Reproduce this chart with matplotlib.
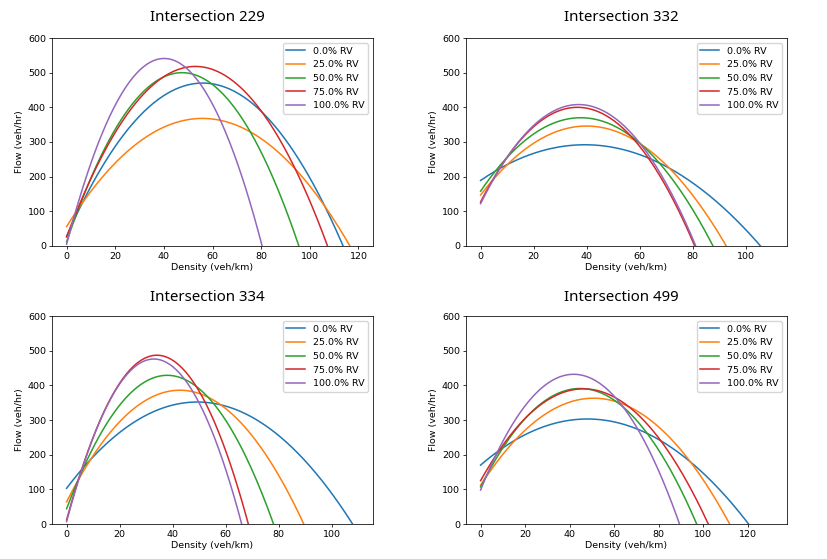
import numpy as np
import matplotlib.pyplot as plt

intersections = ['229', '332', '334', '499']
rv_share = [0.0, 25.0, 50.0, 75.0, 100.0]
k_max = [120, 110, 110, 131]

# per curve (0, 25, 50, 75, 100 % RV): flow at zero density, peak flow, jam density
q_zero = [[28, 56, 12, 26, 5],
          [189, 147, 158, 127, 122],
          [103, 64, 44, 12, 7],
          [170, 112, 107, 125, 98]]
q_peak = [[470, 368, 500, 518, 541],
          [292, 346, 370, 400, 408],
          [352, 386, 429, 487, 476],
          [303, 363, 391, 390, 432]]
k_jam = [[113.7, 116.5, 95.5, 107.3, 80.4],
         [105.5, 92.6, 87.6, 80.7, 81.1],
         [107.8, 89.4, 78.0, 68.5, 66.0],
         [120.3, 111.8, 97.0, 102.2, 89.3]]

fs = 6.8
plt.rcParams['font.size'] = fs
plt.rcParams['xtick.major.size'] = 2.4
plt.rcParams['ytick.major.size'] = 2.4
plt.rcParams['xtick.major.width'] = 0.55
plt.rcParams['ytick.major.width'] = 0.55
plt.rcParams['axes.linewidth'] = 0.55

fig = plt.figure(figsize=(8.28, 5.59), dpi=100)

lefts = [0.0628, 0.5628, 0.0628, 0.5628]
bottoms = [0.560, 0.560, 0.0626, 0.0626]
title_x = [0.25, 0.75, 0.25, 0.75]
title_y = [0.968, 0.968, 0.467, 0.467]

for i, name in enumerate(intersections):
    ax = fig.add_axes([lefts[i], bottoms[i], 0.3877, 0.372])
    k = np.linspace(0, k_max[i], 300)
    for j, rv in enumerate(rv_share):
        q0, qp, kj = q_zero[i][j], q_peak[i][j], k_jam[i][j]
        # quadratic flow-density fit through the three read values
        kc = kj / (1 + np.sqrt(qp / (qp - q0)))
        a = qp / (kj - kc) ** 2
        ax.plot(k, qp - a * (k - kc) ** 2, lw=1.1, label=f'{rv}% RV')
    ax.set_ylim(0, 600)
    ax.set_yticks(range(0, 601, 100))
    ax.set_xlabel('Density (veh/km)', fontsize=fs, labelpad=1.5)
    ax.set_ylabel('Flow (veh/hr)', fontsize=fs, labelpad=2.5)
    ax.tick_params(labelsize=fs, pad=2)
    ax.legend(loc='upper right', fontsize=fs, handlelength=2.0)
    fig.text(title_x[i], title_y[i], 'Intersection ' + name,
             fontsize=10.8, family='Noto Sans', ha='center', va='center')

fig.savefig('out.png', dpi=100, facecolor='white')
